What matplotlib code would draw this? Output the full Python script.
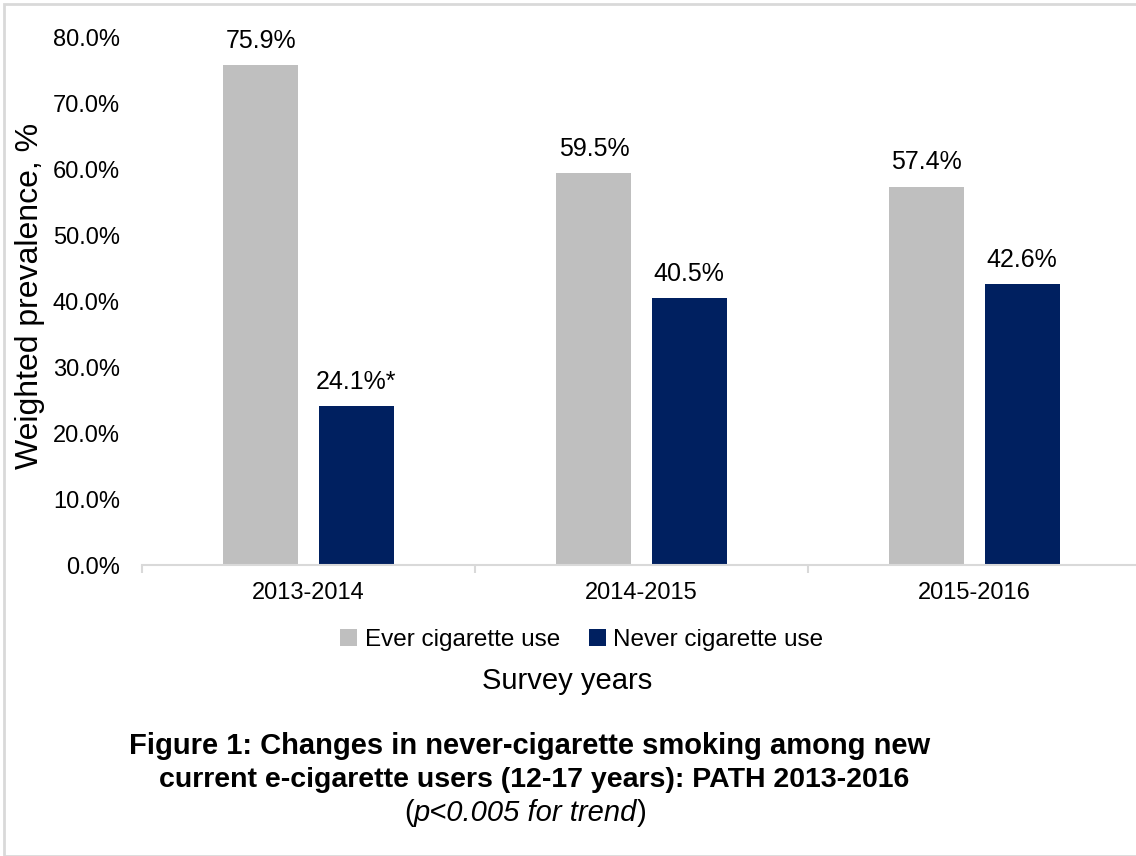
import matplotlib.pyplot as plt
import numpy as np
from matplotlib.patches import Rectangle

plt.rcParams['font.family'] = ['Liberation Sans', 'DejaVu Sans']

years = ['2013-2014', '2014-2015', '2015-2016']
ever = [75.9, 59.5, 57.4]
never = [24.1, 40.5, 42.6]
never_labels = ['24.1%*', '40.5%', '42.6%']

grey = '#BFBFBF'
navy = '#002060'

fig = plt.figure(figsize=(11.36, 8.56), dpi=100)
ax = fig.add_axes([142 / 1136, 291 / 856, 999 / 1136, 527 / 856])

x = np.arange(len(years))
w = 0.225
off = 0.143
b1 = ax.bar(x - off, ever, w, color=grey, label='Ever cigarette use')
b2 = ax.bar(x + off, never, w, color=navy, label='Never cigarette use')

for rect, v in zip(b1, ever):
    ax.annotate(f'{v:.1f}%', (rect.get_x() + rect.get_width() / 2, v),
                xytext=(0, 9), textcoords='offset points',
                ha='center', va='bottom', fontsize=18)
for rect, v, lab in zip(b2, never, never_labels):
    ax.annotate(lab, (rect.get_x() + rect.get_width() / 2, v),
                xytext=(0, 9), textcoords='offset points',
                ha='center', va='bottom', fontsize=18)

ax.set_xlim(-0.5, 2.5)
ax.set_ylim(0, 80)
ax.set_yticks(np.arange(0, 81, 10))
ax.set_yticklabels([f'{t:.1f}%' for t in np.arange(0, 81, 10)])
ax.tick_params(axis='y', length=0, pad=16, labelsize=17)

ax.set_xticks(x)
ax.set_xticklabels(years)
ax.set_xticks([-0.5, 0.5, 1.5, 2.5], minor=True)
ax.tick_params(axis='x', which='major', length=0, pad=12, labelsize=17)
ax.tick_params(axis='x', which='minor', length=6, color='#D9D9D9', width=1.5)

for s in ['top', 'right', 'left']:
    ax.spines[s].set_visible(False)
ax.spines['bottom'].set_color('#D9D9D9')
ax.spines['bottom'].set_linewidth(1.5)

fig.text(30 / 1136, 1 - 296 / 856, 'Weighted prevalence, %', rotation=90,
         ha='center', va='center', fontsize=23)

fig.legend(handles=[b1, b2], loc='center', bbox_to_anchor=(582 / 1136, 1 - 640 / 856),
           ncol=2, frameon=False, fontsize=17.5, handlelength=0.7, handleheight=0.7,
           handletextpad=0.3, columnspacing=1.2)

fig.text(567 / 1136, 1 - 681 / 856, 'Survey years', ha='center', va='center', fontsize=21)

# caption
fig.text(530 / 1136, 1 - 746 / 856, 'Figure 1: Changes in never-cigarette smoking among new',
         ha='center', va='center', fontsize=21, fontweight='bold')
fig.text(534 / 1136, 1 - 780 / 856, 'current e-cigarette users (12-17 years): PATH 2013-2016',
         ha='center', va='center', fontsize=20.5, fontweight='bold')
# "(p<0.005 for trend)" with only the inner part in italics
t1 = fig.text(404 / 1136, 1 - 813 / 856, '(', ha='left', va='center', fontsize=21)
t2 = fig.add_artist(plt.Annotation('p<0.005 for trend', xy=(1, 0), xycoords=t1,
                                   ha='left', va='bottom', fontsize=21, style='italic'))
fig.add_artist(plt.Annotation(')', xy=(1, 0), xycoords=t2,
                              ha='left', va='bottom', fontsize=21))

fig.patches.append(Rectangle((4 / 1136, 0), 1, 1 - 4 / 856, transform=fig.transFigure,
                             fill=False, edgecolor='#D9D9D9', linewidth=2))

fig.savefig('out.png', dpi=100)
